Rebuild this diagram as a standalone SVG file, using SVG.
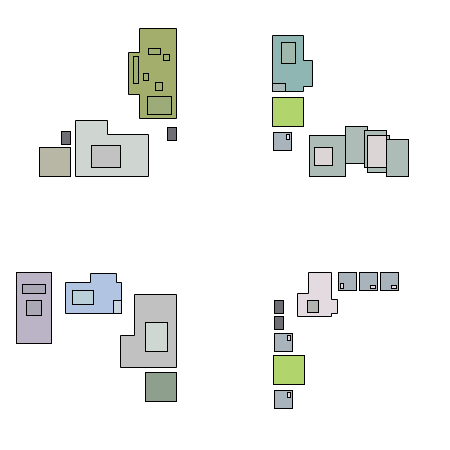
<svg xmlns="http://www.w3.org/2000/svg" width="450" height="450" viewBox="0 0 450 450">
<style>
rect,path{stroke:#000;stroke-width:1}
.dark{fill:#6f6e75}.green{fill:#b1d46c}.gray{fill:#a9b3bc}.tiny{fill:#e3dbe0}.sage{fill:#aebcb7}.rose{fill:#dcd5d5}
</style>
<rect width="450" height="450" fill="#fff" style="stroke:none"/>
<g id="top-left">
<path fill="#a3ad6c" d="M139.500 28.500H176.500V118.500H139.500V94.500H128.500V52.500H139.500Z"/>
<g fill="#9fae72">
<rect x="133.500" y="56.500" width="5" height="27"/>
<rect x="148.500" y="48.500" width="12" height="6"/>
<rect x="163.500" y="54.500" width="6" height="6"/>
<rect x="143.500" y="73.500" width="5" height="7"/>
<rect x="155.500" y="82.500" width="7" height="8"/>
</g>
<rect x="147.500" y="96.500" width="24" height="18" fill="#9cab78"/>
<rect class="dark" x="167.500" y="127.500" width="9" height="13"/>
<rect class="dark" x="61.500" y="131.500" width="9" height="13"/>
<rect x="39.500" y="147.500" width="31" height="29" fill="#b8b7a5"/>
<path fill="#cfd6d1" d="M75.500 120.500H107.500V134.500H148.500V176.500H75.500Z"/>
<rect x="91.500" y="145.500" width="29" height="22" fill="#c2c2c2"/>
</g>
<g id="top-right">
<path fill="#90b6b3" d="M272.500 35.500H303.500V60.500H312.500V86.500H303.500V91.500H272.500Z"/>
<rect x="281.500" y="42.500" width="14" height="21" fill="#a0b8ac"/>
<rect x="272.500" y="83.500" width="13" height="8" fill="#a9b9ba"/>
<rect class="green" x="272.500" y="97.500" width="31" height="29"/>
<rect class="gray" x="273.500" y="132.500" width="18" height="18"/>
<rect class="tiny" x="286.500" y="134.500" width="3" height="5"/>
<rect class="sage" x="309.500" y="135.500" width="36" height="41"/>
<rect class="rose" x="314.500" y="147.500" width="18" height="18"/>
<rect class="sage" x="345.500" y="126.500" width="22" height="37"/>
<rect class="sage" x="364.500" y="130.500" width="22" height="37"/>
<rect class="sage" x="367.500" y="135.500" width="22" height="37"/>
<rect class="rose" x="367.500" y="135.500" width="19" height="32"/>
<rect class="sage" x="386.500" y="139.500" width="22" height="37"/>
</g>
<g id="bottom-left">
<rect x="16.500" y="272.500" width="35" height="71" fill="#bab4c6"/>
<rect x="22.500" y="284.500" width="23" height="9" fill="#a9a8b4"/>
<rect x="26.500" y="300.500" width="15" height="15" fill="#a9a8b4"/>
<path fill="#b1c5e2" d="M65.500 282.500H90.500V273.500H116.500V282.500H121.500V313.500H65.500Z"/>
<rect x="72.500" y="290.500" width="21" height="14" fill="#b9d0d8"/>
<rect x="113.500" y="300.500" width="8" height="13" fill="#cad4de"/>
<path fill="#c1c1c1" d="M134.500 294.500H176.500V367.500H120.500V335.500H134.500Z"/>
<rect x="145.500" y="322.500" width="22" height="29" fill="#cfd7d2"/>
<rect x="145.500" y="372.500" width="31" height="29" fill="#8f9f8d"/>
</g>
<g id="bottom-right">
<path fill="#e3dbe0" d="M308.500 272.500H331.500V299.500H337.500V313.500H331.500V316.500H297.500V293.500H308.500Z"/>
<rect x="307.500" y="300.500" width="11" height="12" fill="#b2b4b2"/>
<rect class="gray" x="338.500" y="272.500" width="18" height="18"/>
<rect class="tiny" x="340.500" y="283.500" width="3" height="5"/>
<rect class="gray" x="359.500" y="272.500" width="18" height="18"/>
<rect class="tiny" x="370.500" y="285.500" width="5" height="3"/>
<rect class="gray" x="380.500" y="272.500" width="18" height="18"/>
<rect class="tiny" x="391.500" y="285.500" width="5" height="3"/>
<rect class="dark" x="274.500" y="300.500" width="9" height="13"/>
<rect class="dark" x="274.500" y="316.500" width="9" height="13"/>
<rect class="gray" x="274.500" y="333.500" width="18" height="18"/>
<rect class="tiny" x="287.500" y="335.500" width="3" height="5"/>
<rect class="green" x="273.500" y="355.500" width="31" height="29"/>
<rect class="gray" x="274.500" y="390.500" width="18" height="18"/>
<rect class="tiny" x="287.500" y="392.500" width="3" height="5"/>
</g>
</svg>
